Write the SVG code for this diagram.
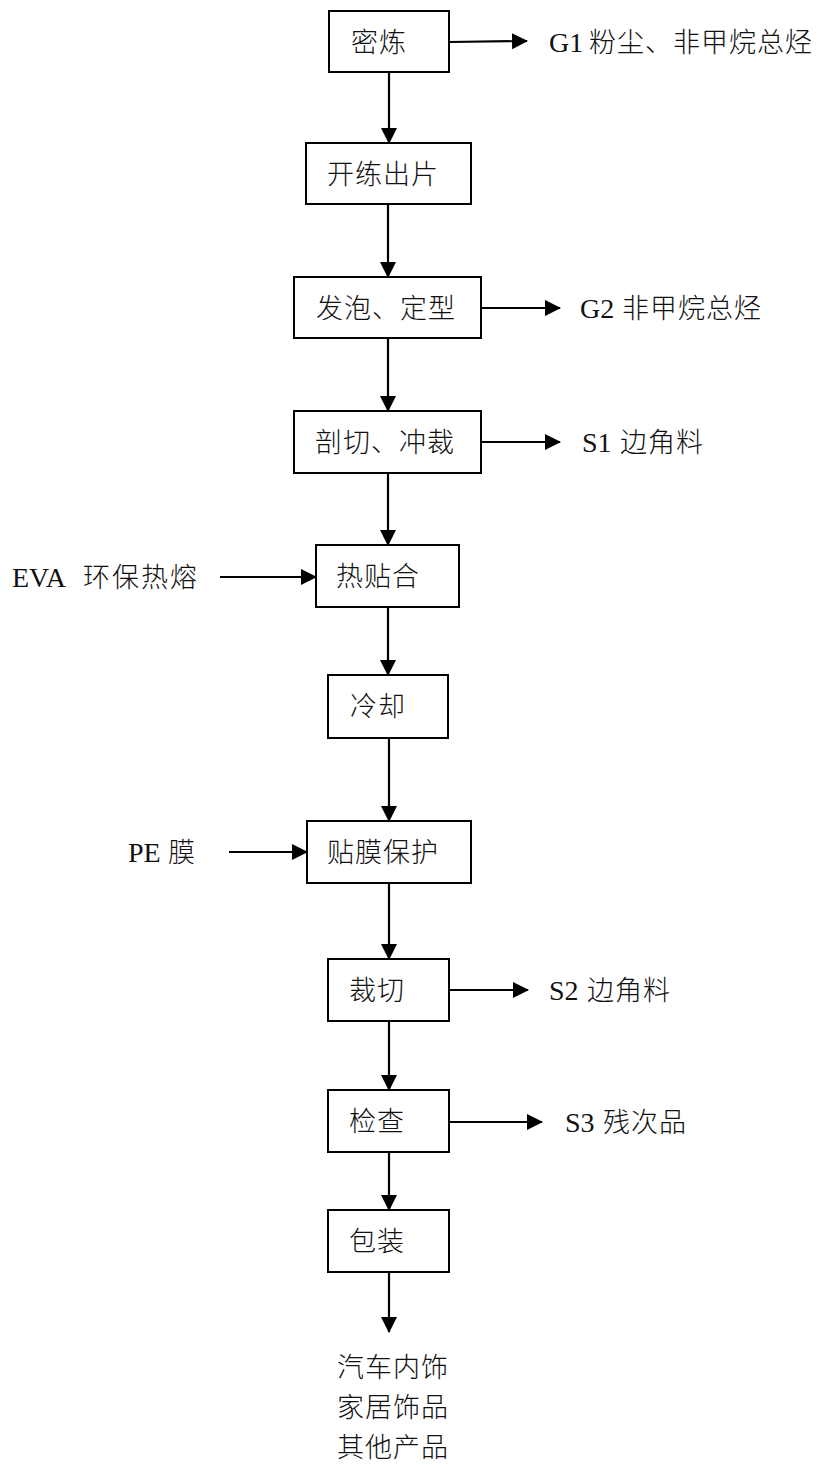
<svg xmlns="http://www.w3.org/2000/svg" width="817" height="1465" viewBox="0 0 817 1465">
<style>
  .box { fill: #fff; stroke: #000; stroke-width: 2; }
  .cn { font-family: "Liberation Serif", "Noto Sans CJK SC", serif; font-size: 27px; font-weight: 300; letter-spacing: 1px; fill: #111; }
  .lat { font-family: "Liberation Serif", serif; font-size: 28px; font-weight: normal; letter-spacing: 0; fill: #111; }
  .conn line { stroke: #000; stroke-width: 2.2; fill: none; }
</style>
<defs>
  <marker id="arr" markerUnits="userSpaceOnUse" markerWidth="17" markerHeight="17" refX="15" refY="8" orient="auto" viewBox="0 0 17 17">
    <path d="M0,0 L16,8 L0,16 z" fill="#000"/>
  </marker>
</defs>
<rect width="817" height="1465" fill="#fff"/>

<g id="connectors" class="conn">
  <line x1="389" y1="72" x2="389" y2="143" marker-end="url(#arr)"/>
  <line x1="388" y1="204" x2="388" y2="277" marker-end="url(#arr)"/>
  <line x1="388" y1="338" x2="388" y2="411" marker-end="url(#arr)"/>
  <line x1="388" y1="473" x2="388" y2="545" marker-end="url(#arr)"/>
  <line x1="388" y1="607" x2="388" y2="675" marker-end="url(#arr)"/>
  <line x1="389" y1="738" x2="389" y2="821" marker-end="url(#arr)"/>
  <line x1="389" y1="883" x2="389" y2="959" marker-end="url(#arr)"/>
  <line x1="389" y1="1021" x2="389" y2="1090" marker-end="url(#arr)"/>
  <line x1="389" y1="1152" x2="389" y2="1210" marker-end="url(#arr)"/>
  <line x1="389" y1="1272" x2="389" y2="1332" marker-end="url(#arr)"/>
  <line x1="449" y1="42" x2="527" y2="41" marker-end="url(#arr)"/>
  <line x1="482" y1="308" x2="560" y2="308" marker-end="url(#arr)"/>
  <line x1="481" y1="442" x2="560" y2="442" marker-end="url(#arr)"/>
  <line x1="449" y1="990" x2="528" y2="990" marker-end="url(#arr)"/>
  <line x1="448" y1="1122" x2="542" y2="1122" marker-end="url(#arr)"/>
  <line x1="220" y1="577" x2="316" y2="577" marker-end="url(#arr)"/>
  <line x1="229" y1="852" x2="307" y2="852" marker-end="url(#arr)"/>
</g>

<g id="n1"><rect class="box" x="329" y="11" width="120" height="61"/><text class="cn" x="351" y="52">密炼</text></g>
<g id="n2"><rect class="box" x="306" y="143" width="165" height="61"/><text class="cn" x="327" y="184">开练出片</text></g>
<g id="n3"><rect class="box" x="294" y="277" width="187" height="61"/><text class="cn" x="316" y="318">发泡、定型</text></g>
<g id="n4"><rect class="box" x="294" y="411" width="187" height="62"/><text class="cn" x="315" y="452">剖切、冲裁</text></g>
<g id="n5"><rect class="box" x="316" y="545" width="143" height="62"/><text class="cn" x="336" y="586">热贴合</text></g>
<g id="n6"><rect class="box" x="328" y="675" width="120" height="63"/><text class="cn" x="350" y="716">冷却</text></g>
<g id="n7"><rect class="box" x="307" y="821" width="164" height="62"/><text class="cn" x="327" y="862">贴膜保护</text></g>
<g id="n8"><rect class="box" x="328" y="959" width="121" height="62"/><text class="cn" x="349" y="1000">裁切</text></g>
<g id="n9"><rect class="box" x="328" y="1090" width="121" height="62"/><text class="cn" x="349" y="1131">检查</text></g>
<g id="n10"><rect class="box" x="328" y="1210" width="121" height="62"/><text class="cn" x="349" y="1251">包装</text></g>

<g id="out-g1"><text class="cn" y="52"><tspan class="lat" x="549">G1</tspan><tspan x="589">粉尘、非甲烷总烃</tspan></text></g>
<g id="out-g2"><text class="cn" y="318"><tspan class="lat" x="580">G2</tspan><tspan x="622">非甲烷总烃</tspan></text></g>
<g id="out-s1"><text class="cn" y="452"><tspan class="lat" x="582">S1</tspan><tspan x="620">边角料</tspan></text></g>
<g id="out-s2"><text class="cn" y="1000"><tspan class="lat" x="549">S2</tspan><tspan x="587">边角料</tspan></text></g>
<g id="out-s3"><text class="cn" y="1132"><tspan class="lat" x="565">S3</tspan><tspan x="603">残次品</tspan></text></g>
<g id="in-eva"><text class="cn" y="587"><tspan class="lat" x="12">EVA</tspan><tspan x="83" letter-spacing="2">环保热熔</tspan></text></g>
<g id="in-pe"><text class="cn" y="862"><tspan class="lat" x="128">PE</tspan><tspan x="168">膜</tspan></text></g>
<g id="products">
  <text class="cn" x="337" y="1377">汽车内饰</text>
  <text class="cn" x="337" y="1417">家居饰品</text>
  <text class="cn" x="337" y="1457">其他产品</text>
</g>
</svg>
